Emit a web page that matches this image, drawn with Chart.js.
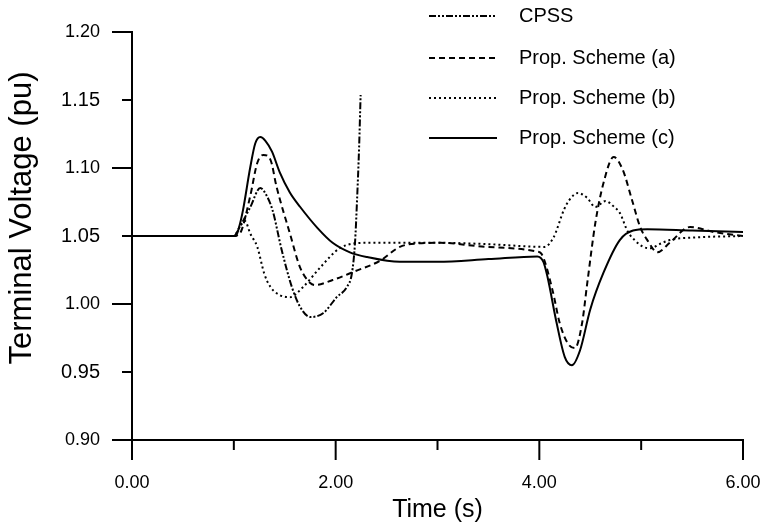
<!doctype html>
<html>
<head>
<meta charset="utf-8">
<title>Terminal Voltage</title>
<script src="https://cdn.jsdelivr.net/npm/chart.js@4.4.1/dist/chart.umd.min.js"></script>
<style>
  html, body { margin: 0; padding: 0; background: #ffffff; }
  #wrap { width: 764px; height: 528px; }
</style>
</head>
<body>
<div id="wrap"><canvas id="chart" width="764" height="528"></canvas></div>
<script>
// Values (time in s, voltage in pu).
const cpssTime = [0, 1.0, 1.06, 1.16, 1.26, 1.32, 1.38, 1.47, 1.57, 1.65, 1.75, 1.88, 2.01, 2.11, 2.16, 2.19, 2.21, 2.23, 2.245];
const cpssVolt = [1.05, 1.05, 1.057, 1.071, 1.0853, 1.080, 1.069, 1.0397, 1.0125, 0.998, 0.9904, 0.9934, 1.005, 1.0125, 1.0228, 1.045, 1.0765, 1.115, 1.1537];

const schemeATime = [0, 1.0, 1.06, 1.16, 1.23, 1.29, 1.36, 1.42, 1.55, 1.65, 1.75, 1.80, 1.97, 2.17, 2.44, 2.63, 2.8, 3.03, 3.4, 3.98, 4.02, 4.13, 4.2, 4.28, 4.35, 4.42, 4.47, 4.55, 4.63, 4.73, 4.82, 4.91, 4.99, 5.06, 5.16, 5.28, 5.48, 5.71, 6.0];
const schemeAVolt = [1.05, 1.05, 1.052, 1.079, 1.1037, 1.1096, 1.106, 1.086, 1.052, 1.027, 1.0154, 1.014, 1.0176, 1.0235, 1.032, 1.042, 1.0445, 1.045, 1.0425, 1.0385, 1.037, 1.010, 0.986, 0.971, 0.9676, 0.986, 1.015, 1.0596, 1.089, 1.108, 1.0985, 1.0765, 1.0566, 1.047, 1.038, 1.045, 1.0566, 1.053, 1.05];

const schemeBTime = [0, 1.0, 1.06, 1.11, 1.16, 1.23, 1.3, 1.36, 1.45, 1.55, 1.68, 1.85, 2.04, 2.31, 2.63, 3.0, 3.5, 4.05, 4.14, 4.24, 4.29, 4.38, 4.47, 4.55, 4.65, 4.74, 4.79, 4.87, 4.95, 5.02, 5.09, 5.18, 5.28, 5.55, 6.0];
const schemeBVolt = [1.05, 1.05, 1.057, 1.061, 1.052, 1.042, 1.022, 1.0125, 1.0066, 1.005, 1.0125, 1.027, 1.041, 1.045, 1.045, 1.045, 1.044, 1.042, 1.049, 1.069, 1.076, 1.0816, 1.078, 1.0713, 1.0757, 1.071, 1.067, 1.053, 1.046, 1.042, 1.041, 1.044, 1.047, 1.049, 1.050];

const schemeCTime = [0, 1.02, 1.05, 1.09, 1.16, 1.21, 1.26, 1.31, 1.375, 1.45, 1.55, 1.65, 1.82, 1.97, 2.14, 2.31, 2.63, 3.0, 3.5, 3.98, 4.04, 4.08, 4.17, 4.25, 4.32, 4.40, 4.50, 4.63, 4.79, 4.92, 5.06, 5.5, 6.0];
const schemeCVolt = [1.05, 1.05, 1.056, 1.069, 1.10, 1.118, 1.1228, 1.120, 1.112, 1.097, 1.082, 1.0715, 1.056, 1.045, 1.038, 1.0345, 1.031, 1.031, 1.033, 1.035, 1.031, 1.020, 0.986, 0.961, 0.955, 0.966, 0.996, 1.023, 1.047, 1.054, 1.055, 1.054, 1.053];

const seriesLabels = ['CPSS', 'Prop. Scheme (a)', 'Prop. Scheme (b)', 'Prop. Scheme (c)'];
const yTitle = 'Terminal Voltage (pu)';

const FONT = '"Liberation Sans", Arial, Helvetica, sans-serif';
const INK = '#000000';

function toPoints(ts, vs) {
  return ts.map((t, i) => ({ x: t, y: vs[i] }));
}

function lineSet(label, ts, vs, dash) {
  return {
    label: label,
    data: toPoints(ts, vs),
    borderColor: INK,
    borderWidth: 2,
    borderDash: dash,
    pointRadius: 0,
    fill: false,
    cubicInterpolationMode: 'monotone'
  };
}

// tick marks: long on labelled values, short in between (drawn from the scales)
const tickMarks = {
  id: 'tickMarks',
  afterDraw(chart) {
    const ctx = chart.ctx;
    const xs = chart.scales.x;
    const ys = chart.scales.y;
    ctx.save();
    ctx.strokeStyle = INK;
    ctx.lineWidth = 2;
    xs.ticks.forEach(t => {
      const px = xs.getPixelForValue(t.value);
      const len = Math.round(t.value) % 2 === 0 ? 20 : 10;
      ctx.beginPath();
      ctx.moveTo(px, xs.top);
      ctx.lineTo(px, xs.top + len);
      ctx.stroke();
    });
    ys.ticks.forEach(t => {
      const py = ys.getPixelForValue(t.value);
      const len = Math.round(t.value * 100) % 10 === 0 ? 20 : 10;
      ctx.beginPath();
      ctx.moveTo(ys.right, py);
      ctx.lineTo(ys.right - len, py);
      ctx.stroke();
    });
    // y axis title, sits a bit above the middle of the axis in the original
    ctx.font = '31px ' + FONT;
    ctx.fillStyle = INK;
    ctx.textAlign = 'center';
    ctx.textBaseline = 'middle';
    ctx.translate(22, 218);
    ctx.rotate(-Math.PI / 2);
    ctx.fillText(yTitle, 0, 0);
    ctx.restore();
  }
};

// legend in the upper right corner, sample line + label
const cornerLegend = {
  id: 'cornerLegend',
  afterDraw(chart) {
    const ctx = chart.ctx;
    const rows = [16, 58, 98, 138];
    ctx.save();
    ctx.font = '20px ' + FONT;
    ctx.fillStyle = INK;
    ctx.textBaseline = 'middle';
    chart.data.datasets.forEach((ds, i) => {
      ctx.strokeStyle = INK;
      ctx.lineWidth = 2;
      ctx.setLineDash(ds.borderDash || []);
      ctx.beginPath();
      ctx.moveTo(429, rows[i]);
      ctx.lineTo(497, rows[i]);
      ctx.stroke();
      ctx.setLineDash([]);
      ctx.fillText(ds.label, 519, rows[i]);
    });
    ctx.restore();
  }
};

new Chart(document.getElementById('chart'), {
  type: 'line',
  data: {
    datasets: [
      lineSet(seriesLabels[0], cpssTime, cpssVolt, [7, 2, 2, 2, 2, 2]),
      lineSet(seriesLabels[1], schemeATime, schemeAVolt, [6, 4]),
      lineSet(seriesLabels[2], schemeBTime, schemeBVolt, [2, 3]),
      lineSet(seriesLabels[3], schemeCTime, schemeCVolt, [])
    ]
  },
  options: {
    responsive: false,
    animation: false,
    layout: { padding: { top: 32, right: 21, left: 0, bottom: 0 }, autoPadding: false },
    plugins: { legend: { display: false }, tooltip: { enabled: false } },
    scales: {
      x: {
        type: 'linear',
        min: 0,
        max: 6,
        grid: { display: false },
        border: { display: true, color: INK, width: 2 },
        ticks: {
          stepSize: 1,
          padding: 24,
          color: INK,
          maxRotation: 0,
          autoSkip: false,
          font: { family: FONT, size: 18 },
          callback: v => (Math.round(v) % 2 === 0 ? v.toFixed(2) : '')
        },
        title: {
          display: true,
          text: 'Time (s)',
          color: INK,
          font: { family: FONT, size: 25 },
          padding: { top: 0, bottom: 3 }
        },
        afterFit: s => { s.height = 88; s.paddingLeft = 0; s.paddingRight = 0; }
      },
      y: {
        min: 0.9,
        max: 1.2,
        grid: { display: false },
        border: { display: true, color: INK, width: 2 },
        ticks: {
          stepSize: 0.05,
          padding: 24,
          color: INK,
          autoSkip: false,
          font: c => ({ family: FONT, size: (c.tick && Math.round(c.tick.value * 100) % 10 !== 0) ? 20 : 18 }),
          callback: v => v.toFixed(2)
        },
        title: { display: false },
        afterFit: s => { s.width = 132; s.paddingTop = 0; s.paddingBottom = 0; }
      }
    }
  },
  plugins: [tickMarks, cornerLegend]
});
</script>
</body>
</html>
